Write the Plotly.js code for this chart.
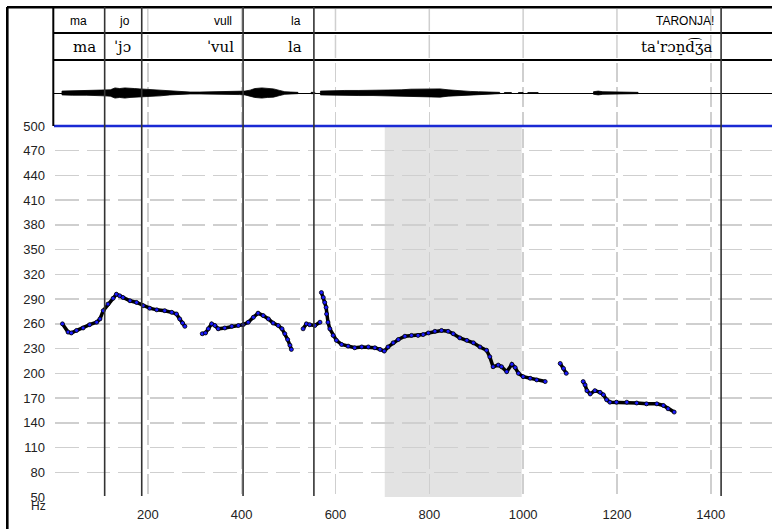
<!DOCTYPE html>
<html><head><meta charset="utf-8">
<script src="https://cdn.plot.ly/plotly-3.0.1.min.js"></script>
<style>html,body{margin:0;padding:0;background:#fff;}</style>
</head><body><div id="chart" style="width:772px;height:529px;"></div>
<script>
// ---- data ----
// pitch contour (ms, Hz); null separates voiced stretches
const f0Time = [18,30,37,48,62,76,91,98,105,115,126,133,140,147,162,176,190,204,219,236,251,261,268,274,279,null,
  316,323,329,336,343,350,364,379,393,403,414,425,435,446,457,467,478,486,492,498,503,506,null,
  531,538,545,556,567,null,
  570,574,577,580,581,584,588,595,602,613,627,641,656,670,684,695,704,712,723,734,748,762,776,787,798,812,826,840,851,865,880,894,908,922,929,936,947,954,965,976,983,990,1000,1015,1029,1047,null,
  1079,1086,1092,null,
  1128,1132,1136,1143,1153,1164,1171,1178,1185,1199,1221,1242,1263,1285,1299,1309,1322];
const f0Hz = [260,250,249,252,255,259,262,266,276,284,291,296,294,292,288,286,282,279,277,276,274,272,266,261,257,null,
  248,249,254,260,258,254,255,257,258,259,262,268,273,270,266,261,258,254,248,241,234,229,null,
  254,260,259,258,262,null,
  298,292,286,280,272,262,254,246,240,235,233,231,232,232,231,229,227,232,237,241,245,246,246,247,249,251,252,251,248,243,240,237,232,228,220,208,210,208,202,211,207,200,196,194,192,190,null,
  212,206,200,null,
  190,186,179,175,179,177,174,168,165,165,165,164,163,163,161,157,153];

// waveform envelope (ms, relative half-amplitude); null separates stretches
const waveTime = [17,40,70,95,108,120,130,140,151,162,172,183,194,210,226,247,268,290,311,343,375,395,407,418,428,443,455,468,481,492,505,520,null,
  548,556,null,
  568,580,600,620,650,680,700,720,740,760,780,800,823,840,855,870,887,905,920,935,950,null,
  960,975,null,990,1000,null,1010,1032,null,
  1150,1160,1170,1190,1210,1230,1245];
const waveAmp = [3,3.5,3.5,4,4.5,5,8,7,8,7,7,6.5,6,5,4.5,3,2,1.5,1.5,2,2,2.5,3,4.5,7,8,7,6.5,4,2,1.5,1,null,
  1,1,null,
  3,3.5,4,4,4,4,4.5,4.5,5,6,6.5,6,6.5,5,4,3,2.5,2,1.5,1.5,1,null,
  0.8,0.8,null,0.8,0.8,null,0.8,0.8,null,
  2,3,2,1.5,1.5,1,1];

// tiers
const boundaries = [108,187,403,554,1422];
const orthoLabels = ['ma','jo','vull','la','TARONJA!'];
const orthoRight = [72,164,382,528,1409];
const ipaLabels = ['ma','ˈjɔ','ˈvul','la','taˈrɔn̠d͡ʒa'];
const ipaRight = [91,166,386,531,1405];
const shadeSpan = [705,997];
const xTicks = [200,400,600,800,1000,1200,1400];
const yTicks = [50,80,110,140,170,200,230,260,290,320,350,380,410,440,470,500];

// ---- geometry helpers (pixels -> paper) ----
const W=772,H=529,L=54,T=7,B=32;
const PW=W-L, PH=H-T-B;
const px2x = p => (p-L)/PW;
const py2y = p => (H-B-p)/PH;

// waveform polygons
const polyX=[],polyY=[];
let seg=[];
function flush(){
  if(!seg.length) return;
  seg.forEach(i=>{polyX.push(waveTime[i]);polyY.push(waveAmp[i]);});
  for(let k=seg.length-1;k>=0;k--){polyX.push(waveTime[seg[k]]);polyY.push(-waveAmp[seg[k]]);}
  polyX.push(waveTime[seg[0]]);polyY.push(waveAmp[seg[0]]);
  polyX.push(null);polyY.push(null);
  seg=[];
}
waveTime.forEach((t,i)=>{ if(t===null) flush(); else seg.push(i); }); flush();

const gridCol='#cfcfcf';
const traces=[
  {x:polyX,y:polyY,xaxis:'x',yaxis:'y2',mode:'lines',fill:'toself',fillcolor:'#000',
   line:{color:'#000',width:0.8},hoverinfo:'skip',connectgaps:false},
  {x:f0Time,y:f0Hz,xaxis:'x',yaxis:'y',mode:'lines+markers',connectgaps:false,
   line:{color:'#000',width:3.5},
   marker:{color:'#1a1aff',size:4,line:{color:'#000',width:0.8}},hoverinfo:'skip'}
];

const shapes=[];
// shaded region
shapes.push({type:'rect',xref:'x',yref:'y',x0:shadeSpan[0],x1:shadeSpan[1],y0:50,y1:500,
  fillcolor:'#e3e3e3',line:{width:0},layer:'below'});
// light grid lines in tier rows
xTicks.forEach(v=>{
  [[35,58],[9,31]].forEach(r=>{
    shapes.push({type:'line',xref:'x',yref:'paper',x0:v,x1:v,y0:py2y(r[1]),y1:py2y(r[0]),
      line:{color:gridCol,width:1.5}});
  });
});
// blue 500 Hz line (paper refs so it is not clipped)
shapes.push({type:'line',xref:'paper',yref:'paper',x0:0,x1:1,y0:py2y(126),y1:py2y(126),line:{color:'#1a2ad4',width:2.4}});
// tier separators
[33,60].forEach(p=>shapes.push({type:'line',xref:'paper',yref:'paper',x0:0,x1:1,y0:py2y(p),y1:py2y(p),line:{color:'#000',width:2}}));
// tier left border
shapes.push({type:'line',xref:'paper',yref:'paper',x0:px2x(53.3),x1:px2x(53.3),y0:py2y(126),y1:py2y(7),line:{color:'#000',width:2}});
// outer frame
shapes.push({type:'line',xref:'paper',yref:'paper',x0:px2x(7),x1:1.01,y0:py2y(7.3),y1:py2y(7.3),line:{color:'#000',width:2.6}});
shapes.push({type:'line',xref:'paper',yref:'paper',x0:px2x(7.3),x1:px2x(7.3),y0:py2y(535),y1:py2y(7),line:{color:'#000',width:2.6}});
// interval boundaries
boundaries.forEach(b=>shapes.push({type:'line',xref:'x',yref:'paper',x0:b,x1:b,y0:py2y(496),y1:py2y(7),
  line:{color:'#333',width:1.6}}));

const annotations=[];
orthoLabels.forEach((s,i)=>annotations.push({text:s,xref:'x',yref:'paper',x:orthoRight[i],y:py2y(20.5),
  xanchor:'right',yanchor:'middle',showarrow:false,borderpad:0,
  font:{family:'Liberation Sans, Arial, sans-serif',size:12,color:'#000'}}));
ipaLabels.forEach((s,i)=>annotations.push({text:s,xref:'x',yref:'paper',x:ipaRight[i],y:py2y(47),
  xanchor:'right',yanchor:'middle',showarrow:false,borderpad:0,
  font:{family:'DejaVu Serif, Liberation Serif, serif',size:15,color:'#000'}}));
annotations.push({text:'Hz',xref:'paper',yref:'paper',x:px2x(38),y:py2y(506.5),xanchor:'center',yanchor:'middle',
  showarrow:false,font:{family:'Liberation Sans, Arial, sans-serif',size:12,color:'#222'}});

const layout={
  width:W,height:H,margin:{l:L,r:0,t:T,b:B,pad:0},
  paper_bgcolor:'#fff',plot_bgcolor:'rgba(0,0,0,0)',showlegend:false,
  font:{family:'Liberation Sans, Arial, sans-serif',size:13,color:'#222'},
  xaxis:{range:[0,1530.5],tickvals:xTicks,ticktext:xTicks.map(String),showgrid:true,gridcolor:gridCol,gridwidth:1.5,
    griddash:'0px,2.5px,19.7px,2.5px',zeroline:false,showline:false,ticks:'',ticklabelstandoff:8,fixedrange:true,anchor:'y'},
  yaxis:{domain:[0,py2y(126)],range:[50,500],tickvals:yTicks,ticktext:yTicks.map(String),showgrid:true,gridcolor:gridCol,gridwidth:1.5,
    griddash:'0px,1.3px,23.56px,6.7px',zeroline:false,showline:false,ticks:'',ticklabelstandoff:8,fixedrange:true},
  yaxis2:{domain:[py2y(126),py2y(60)],range:[-52,52],showgrid:false,showticklabels:false,zeroline:true,
    zerolinecolor:'#000',zerolinewidth:1,showline:false,anchor:'x',fixedrange:true},
  shapes:shapes,annotations:annotations
};
Plotly.newPlot('chart',traces,layout,{displayModeBar:false,staticPlot:true});
</script></body></html>
